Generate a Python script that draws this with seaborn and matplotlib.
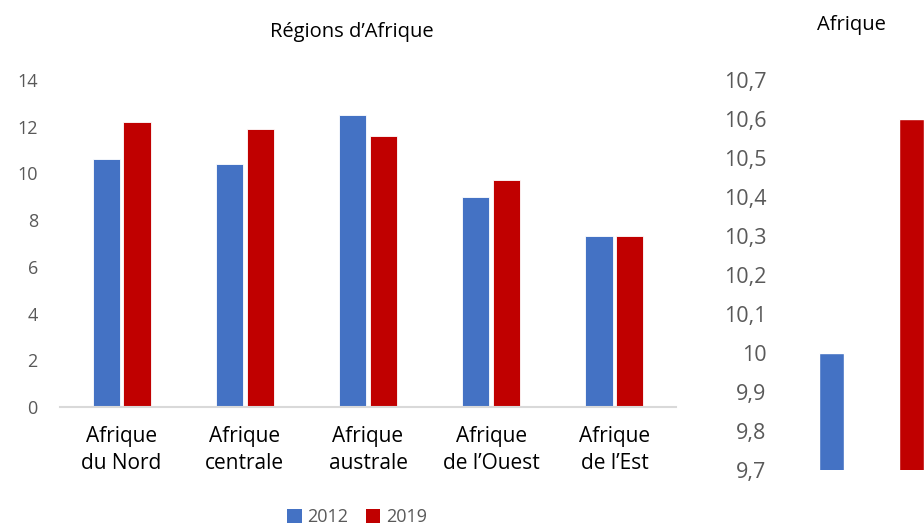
import pandas as pd
import matplotlib.pyplot as plt
import seaborn as sns
from matplotlib.ticker import FuncFormatter, MultipleLocator
from matplotlib.patches import Patch

# Data
regions = ["Afrique\ndu Nord", "Afrique\ncentrale", "Afrique\naustrale",
           "Afrique\nde l\u2019Ouest", "Afrique\nde l\u2019Est"]
vals_2012 = [10.6, 10.4, 12.5, 9.0, 7.3]
vals_2019 = [12.2, 11.9, 11.6, 9.7, 7.3]
years = ["2012", "2019"]
afrique_vals = [10.0, 10.6]

blue = "#4472C4"
red = "#C00000"
grey = "#595959"

df = pd.DataFrame({
    "region": regions * 2,
    "year": ["2012"] * 5 + ["2019"] * 5,
    "value": vals_2012 + vals_2019,
})

sns.set_theme(style="white")
plt.rcParams["font.family"] = ["Open Sans", "DejaVu Sans"]

fig = plt.figure(figsize=(9.24, 5.27), dpi=100)

# left chart: regions
ax = fig.add_axes([60 / 924, 0.2277, 616 / 924, 0.6205])
sns.barplot(data=df, x="region", y="value", hue="year",
            palette=[blue, red], saturation=1, width=0.5, gap=0.12,
            edgecolor="white", linewidth=0.6, ax=ax, legend=False)
ax.set_ylim(0, 14)
ax.yaxis.set_major_locator(MultipleLocator(2))
ax.set_xlabel("")
ax.set_ylabel("")
for s in ["top", "right", "left"]:
    ax.spines[s].set_visible(False)
ax.spines["bottom"].set_color("#D9D9D9")
ax.spines["bottom"].set_linewidth(1.5)
ax.tick_params(axis="y", length=0, labelsize=13, labelcolor=grey, pad=16)
ax.tick_params(axis="x", length=0, labelsize=15, labelcolor="black", pad=14)
for t in ax.get_xticklabels():
    t.set_linespacing(1.35)

# right chart: Afrique overall (cut at figure edge)
ax2 = fig.add_axes([791.5 / 924, 57 / 527, 160 / 924, 390 / 527])
sns.barplot(x=years, y=afrique_vals, hue=years, palette=[blue, red],
            saturation=1, width=0.31, ax=ax2, legend=False)
ax2.set_ylim(9.7, 10.7)
ax2.yaxis.set_major_locator(MultipleLocator(0.1))
ax2.yaxis.set_major_formatter(FuncFormatter(lambda v, p: f"{round(v, 1):g}".replace(".", ",")))
ax2.set_xticks([])
for s in ["top", "right", "left", "bottom"]:
    ax2.spines[s].set_visible(False)
ax2.tick_params(axis="y", length=0, labelsize=15.5, labelcolor=grey, pad=18)

# titles
fig.text(352 / 924, 1 - 32 / 527, "R\u00e9gions d\u2019Afrique", ha="center", va="center",
         fontsize=14.5, color="black")
fig.text(851 / 924, 1 - 25 / 527, "Afrique", ha="center", va="center",
         fontsize=14.5, color="black")

# legend
handles = [Patch(facecolor=blue, edgecolor="none"), Patch(facecolor=red, edgecolor="none")]
fig.legend(handles, years, loc="center", bbox_to_anchor=(357 / 924, 1 - 517 / 527),
           ncol=2, frameon=False, fontsize=13, labelcolor=grey,
           handlelength=0.8, handleheight=0.8, handletextpad=0.3, columnspacing=1.0)

fig.savefig("out.png", dpi=100)
